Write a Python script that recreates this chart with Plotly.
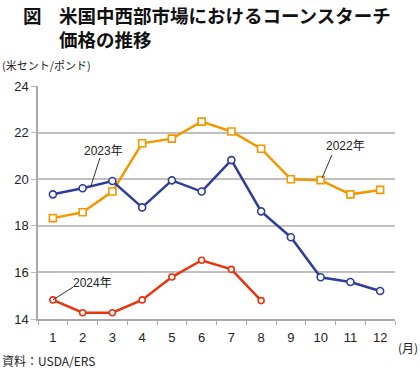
import plotly.graph_objects as go

months = list(range(1, 13))
month_labels = [str(m) for m in months]
y2022 = [18.33, 18.58, 19.47, 21.54, 21.74, 22.47, 22.05, 21.31, 20.0, 19.96, 19.35, 19.54]
y2023 = [19.35, 19.61, 19.92, 18.79, 19.95, 19.47, 20.82, 18.62, 17.51, 15.79, 15.59, 15.2]
m2024 = [1, 2, 3, 4, 5, 6, 7, 8]
y2024 = [14.82, 14.27, 14.27, 14.82, 15.8, 16.52, 16.13, 14.79]
yticks = [14, 16, 18, 20, 22, 24]

ORANGE = "#F39800"
BLUE = "#2E3D98"
RED = "#E8340F"
FONT = "Liberation Sans, Noto Sans CJK JP"
JP = "Noto Sans CJK JP"

W, H = 420, 371
PL, PR, PT, PB = 38, 395, 86, 319  # plot area in page pixels
L, T, R, B = PL, PT, W - PR, H - PB
PW, PH = PR - PL, PB - PT

def px(x):
    return (x - PL) / PW

def py(y):
    return (PB - y) / PH

fig = go.Figure()
fig.add_trace(go.Scatter(x=months, y=y2022, mode="lines+markers", name="2022年",
                         line=dict(color=ORANGE, width=2.5),
                         marker=dict(symbol="square", size=7, color="white",
                                     line=dict(color=ORANGE, width=1.6))))
fig.add_trace(go.Scatter(x=months, y=y2023, mode="lines+markers", name="2023年",
                         line=dict(color=BLUE, width=2.5),
                         marker=dict(symbol="circle", size=7, color="white",
                                     line=dict(color=BLUE, width=1.6))))
fig.add_trace(go.Scatter(x=m2024, y=y2024, mode="lines+markers", name="2024年",
                         line=dict(color=RED, width=2.5),
                         marker=dict(symbol="circle", size=6, color="white",
                                     line=dict(color=RED, width=1.6))))

# leader lines
for (x0, y0, x1, y1) in [(2.58, 20.91, 2.28, 19.71), (10.38, 21.04, 10.05, 20.05),
                         (1.68, 15.37, 1.0, 14.82)]:
    fig.add_shape(type="line", x0=x0, y0=y0, x1=x1, y1=y1, xref="x", yref="y",
                  line=dict(color="#333333", width=1))

anns = [
    dict(x=2.70, y=21.21, text="2023年", xref="x", yref="y"),
    dict(x=10.84, y=21.42, text="2022年", xref="x", yref="y"),
    dict(x=2.33, y=15.55, text="2024年", xref="x", yref="y"),
]
for a in anns:
    fig.add_annotation(**a, showarrow=False, font=dict(family=FONT, size=12, color="#222222"))

title_font = dict(family=JP, size=18.5, color="#111111")
fig.add_annotation(x=px(21), y=py(0), xref="paper", yref="paper", text="<b>図</b>",
                   showarrow=False, xanchor="left", yanchor="top", font=title_font)
fig.add_annotation(x=px(57), y=py(0), xref="paper", yref="paper",
                   text="<b>米国中西部市場におけるコーンスターチ</b><br><b>価格の推移</b>",
                   align="left", showarrow=False, xanchor="left", yanchor="top",
                   font=title_font)
fig.add_annotation(x=px(0), y=py(65), xref="paper", yref="paper", text="(米セント/ポンド)",
                   showarrow=False, xanchor="left", yanchor="middle",
                   font=dict(family=JP, size=11, color="#222222"))
fig.add_annotation(x=px(420), y=py(347), xref="paper", yref="paper", text="(月)",
                   showarrow=False, xanchor="right", yanchor="middle",
                   font=dict(family=JP, size=12, color="#222222"))
fig.add_annotation(x=px(0), y=py(371), xref="paper", yref="paper", text="資料：USDA/ERS",
                   showarrow=False, xanchor="left", yanchor="bottom",
                   font=dict(family=JP, size=12, color="#222222"))

fig.update_layout(
    width=W, height=H, margin=dict(l=L, r=R, t=T, b=B),
    paper_bgcolor="white", plot_bgcolor="white", showlegend=False,
    font=dict(family=FONT, size=13, color="#222222"),
)
fig.update_xaxes(range=[0.5, 12.5], tickvals=months, ticktext=month_labels, ticks="",
                 showgrid=False, zeroline=False, showline=True, linecolor="#AAAAAA",
                 linewidth=1.5, ticklabelstandoff=6,
                 minor=dict(tickmode="linear", tick0=0.5, dtick=1, ticks="outside",
                            ticklen=4, tickcolor="#AAAAAA", showgrid=False),
                 tickfont=dict(family=FONT, size=13))
fig.update_yaxes(range=[14, 24], tickvals=yticks, ticks="outside", ticklen=5,
                 tickcolor="#BBBBBB", showgrid=True, gridcolor="#C0C0C0", gridwidth=1.5,
                 zeroline=False, showline=True, linecolor="#AAAAAA", linewidth=1.5,
                 tickfont=dict(family=FONT, size=13))

fig.write_html("out.html", config={"displayModeBar": False},
               post_script="document.body.style.margin='0px';")
